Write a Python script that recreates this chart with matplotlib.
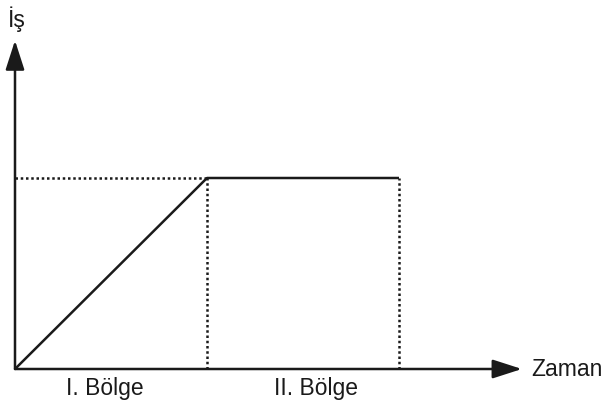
import matplotlib
matplotlib.use('Agg')
import matplotlib.pyplot as plt

plt.rcParams['font.family'] = ['Liberation Sans', 'DejaVu Sans']

# iş - zaman grafiği: I. bölgede iş artar, II. bölgede sabit kalır
zaman = [0, 1, 2]
is_degeri = [0, 1, 1]
bolge_adlari = ["I. Bölge", "II. Bölge"]
bolge_etiket_x = [0.47, 1.57]

fig = plt.figure(figsize=(6.06, 4.03), dpi=100)
ax = fig.add_axes([0, 0, 1, 1])
ax.set_xlim(-15 / 192, 591 / 192)
ax.set_ylim(-34 / 191, 369 / 191)
ax.axis('off')

# eksenler
ok = dict(arrowstyle='-|>,head_length=1.8,head_width=0.58', mutation_scale=10,
          color='#1a1a1a', lw=1.8, shrinkA=0, shrinkB=0)
ax.annotate('', xy=(2.64, 0), xytext=(0, 0), arrowprops=ok)
ax.annotate('', xy=(0, 1.72), xytext=(0, 0), arrowprops=ok)

# kesikli yardımcı çizgiler
ax.plot([0, zaman[1]], [is_degeri[1], is_degeri[1]], ls=(0, (1, 1.1)), color='#1a1a1a', lw=1.8)
for t in zaman[1:]:
    ax.plot([t, t], [0, is_degeri[1]], ls=(0, (1, 1.1)), color='#1a1a1a', lw=1.8)

# grafik
ax.plot(zaman, is_degeri, color='#1a1a1a', lw=1.8, solid_capstyle='butt')

ax.text(0.01, 1.83, "İş", fontsize=16.5, ha='center', va='center', color='#1a1a1a')
ax.text(2.69, 0, "Zaman", fontsize=16.5, ha='left', va='center', color='#1a1a1a')
for x, ad in zip(bolge_etiket_x, bolge_adlari):
    ax.text(x, -0.10, ad, fontsize=16.5, ha='center', va='center', color='#1a1a1a')

fig.savefig("out.png", dpi=100)
plt.close()
